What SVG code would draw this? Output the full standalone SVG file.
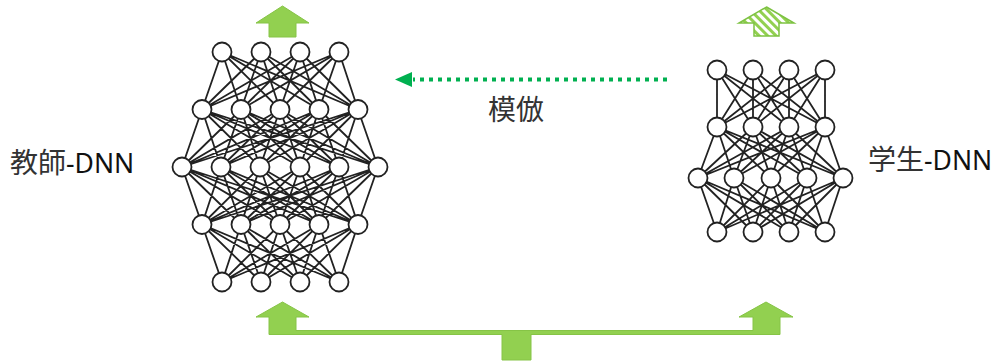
<svg xmlns="http://www.w3.org/2000/svg" width="1003" height="363" viewBox="0 0 1003 363">
<style>
.edge{fill:none;stroke:#222;stroke-width:1.8}
.node{fill:#fff;stroke:#222;stroke-width:1.8}
.solid{fill:#92D050;stroke:#86C446;stroke-width:1}
.lbl{font-family:"Noto Sans CJK JP","Noto Sans",sans-serif;font-size:28px;fill:#333}
.lat{font-family:"Noto Sans","Noto Sans CJK JP",sans-serif;font-size:26.5px;fill:#111}
</style>
<defs>
<pattern id="hatch" patternUnits="userSpaceOnUse" width="6" height="6" patternTransform="rotate(-45)">
<rect width="6" height="6" fill="#fff"/>
<rect width="3" height="6" fill="#92D050"/>
</pattern>
</defs>
<g id="connectors">
<path class="edge" d="M222,52L202,109.5M222,52L241,109.5M222,52L280,109.5M222,52L319,109.5M222,52L358,109.5M261,52L202,109.5M261,52L241,109.5M261,52L280,109.5M261,52L319,109.5M261,52L358,109.5M300,52L202,109.5M300,52L241,109.5M300,52L280,109.5M300,52L319,109.5M300,52L358,109.5M339,52L202,109.5M339,52L241,109.5M339,52L280,109.5M339,52L319,109.5M339,52L358,109.5"/>
<path class="edge" d="M202,109.5L182,167M202,109.5L221,167M202,109.5L260,167M202,109.5L300,167M202,109.5L339,167M202,109.5L378,167M241,109.5L182,167M241,109.5L221,167M241,109.5L260,167M241,109.5L300,167M241,109.5L339,167M241,109.5L378,167M280,109.5L182,167M280,109.5L221,167M280,109.5L260,167M280,109.5L300,167M280,109.5L339,167M280,109.5L378,167M319,109.5L182,167M319,109.5L221,167M319,109.5L260,167M319,109.5L300,167M319,109.5L339,167M319,109.5L378,167M358,109.5L182,167M358,109.5L221,167M358,109.5L260,167M358,109.5L300,167M358,109.5L339,167M358,109.5L378,167"/>
<path class="edge" d="M202,224.5L182,167M202,224.5L221,167M202,224.5L260,167M202,224.5L300,167M202,224.5L339,167M202,224.5L378,167M241,224.5L182,167M241,224.5L221,167M241,224.5L260,167M241,224.5L300,167M241,224.5L339,167M241,224.5L378,167M280,224.5L182,167M280,224.5L221,167M280,224.5L260,167M280,224.5L300,167M280,224.5L339,167M280,224.5L378,167M319,224.5L182,167M319,224.5L221,167M319,224.5L260,167M319,224.5L300,167M319,224.5L339,167M319,224.5L378,167M358,224.5L182,167M358,224.5L221,167M358,224.5L260,167M358,224.5L300,167M358,224.5L339,167M358,224.5L378,167"/>
<path class="edge" d="M222,282L202,224.5M222,282L241,224.5M222,282L280,224.5M222,282L319,224.5M222,282L358,224.5M261,282L202,224.5M261,282L241,224.5M261,282L280,224.5M261,282L319,224.5M261,282L358,224.5M300,282L202,224.5M300,282L241,224.5M300,282L280,224.5M300,282L319,224.5M300,282L358,224.5M339,282L202,224.5M339,282L241,224.5M339,282L280,224.5M339,282L319,224.5M339,282L358,224.5"/>
<path class="edge" d="M717,70L717,127M717,70L753,127M717,70L789,127M717,70L825,127M753,70L717,127M753,70L753,127M753,70L789,127M753,70L825,127M789,70L717,127M789,70L753,127M789,70L789,127M789,70L825,127M825,70L717,127M825,70L753,127M825,70L789,127M825,70L825,127"/>
<path class="edge" d="M717,127L698,178M717,127L734,178M717,127L771,178M717,127L807,178M717,127L843,178M753,127L698,178M753,127L734,178M753,127L771,178M753,127L807,178M753,127L843,178M789,127L698,178M789,127L734,178M789,127L771,178M789,127L807,178M789,127L843,178M825,127L698,178M825,127L734,178M825,127L771,178M825,127L807,178M825,127L843,178"/>
<path class="edge" d="M717,232L698,178M717,232L734,178M717,232L771,178M717,232L807,178M717,232L843,178M753,232L698,178M753,232L734,178M753,232L771,178M753,232L807,178M753,232L843,178M789,232L698,178M789,232L734,178M789,232L771,178M789,232L807,178M789,232L843,178M825,232L698,178M825,232L734,178M825,232L771,178M825,232L807,178M825,232L843,178"/>
<line x1="667" y1="79.5" x2="413" y2="79.5" stroke="#00B050" stroke-width="4" stroke-dasharray="4 5"/>
<polygon points="395,79.5 412,72 412,87" fill="#00B050"/>
<path class="solid" d="M282.5,302L309,317L296,317L296,330.5L753,330.5L753,317L739,317L766,302L793,317L780,317L780,334.5L531,334.5L531,360L502,360L502,334.5L269,334.5L269,317L256,317Z"/>
</g>
<g id="teacher-output"><path class="solid" d="M282.5,6L309,23L296,23L296,37L269,37L269,23L256,23Z"/></g>
<g id="student-output"><path d="M766.5,7L794,23L779,23L779,36L754,36L754,23L739,23Z" fill="url(#hatch)" stroke="#7DC242" stroke-width="1.5"/></g>
<g id="teacher">
<circle class="node" cx="222" cy="52" r="9.5"/><circle class="node" cx="261" cy="52" r="9.5"/><circle class="node" cx="300" cy="52" r="9.5"/><circle class="node" cx="339" cy="52" r="9.5"/>
<circle class="node" cx="202" cy="109.5" r="9.5"/><circle class="node" cx="241" cy="109.5" r="9.5"/><circle class="node" cx="280" cy="109.5" r="9.5"/><circle class="node" cx="319" cy="109.5" r="9.5"/><circle class="node" cx="358" cy="109.5" r="9.5"/>
<circle class="node" cx="182" cy="167" r="9.5"/><circle class="node" cx="221" cy="167" r="9.5"/><circle class="node" cx="260" cy="167" r="9.5"/><circle class="node" cx="300" cy="167" r="9.5"/><circle class="node" cx="339" cy="167" r="9.5"/><circle class="node" cx="378" cy="167" r="9.5"/>
<circle class="node" cx="202" cy="224.5" r="9.5"/><circle class="node" cx="241" cy="224.5" r="9.5"/><circle class="node" cx="280" cy="224.5" r="9.5"/><circle class="node" cx="319" cy="224.5" r="9.5"/><circle class="node" cx="358" cy="224.5" r="9.5"/>
<circle class="node" cx="222" cy="282" r="9.5"/><circle class="node" cx="261" cy="282" r="9.5"/><circle class="node" cx="300" cy="282" r="9.5"/><circle class="node" cx="339" cy="282" r="9.5"/>
</g>
<g id="student">
<circle class="node" cx="717" cy="70" r="9.5"/><circle class="node" cx="753" cy="70" r="9.5"/><circle class="node" cx="789" cy="70" r="9.5"/><circle class="node" cx="825" cy="70" r="9.5"/>
<circle class="node" cx="717" cy="127" r="9.5"/><circle class="node" cx="753" cy="127" r="9.5"/><circle class="node" cx="789" cy="127" r="9.5"/><circle class="node" cx="825" cy="127" r="9.5"/>
<circle class="node" cx="698" cy="178" r="9.5"/><circle class="node" cx="734" cy="178" r="9.5"/><circle class="node" cx="771" cy="178" r="9.5"/><circle class="node" cx="807" cy="178" r="9.5"/><circle class="node" cx="843" cy="178" r="9.5"/>
<circle class="node" cx="717" cy="232" r="9.5"/><circle class="node" cx="753" cy="232" r="9.5"/><circle class="node" cx="789" cy="232" r="9.5"/><circle class="node" cx="825" cy="232" r="9.5"/>
</g>
<g id="label-teacher"><text class="lbl" x="10" y="173">教師<tspan class="lat">-DNN</tspan></text></g>
<g id="label-student"><text class="lbl" x="868" y="170">学生<tspan class="lat">-DNN</tspan></text></g>
<g id="label-imitate"><text class="lbl" x="488" y="120" fill="#404040">模倣</text></g>
</svg>
